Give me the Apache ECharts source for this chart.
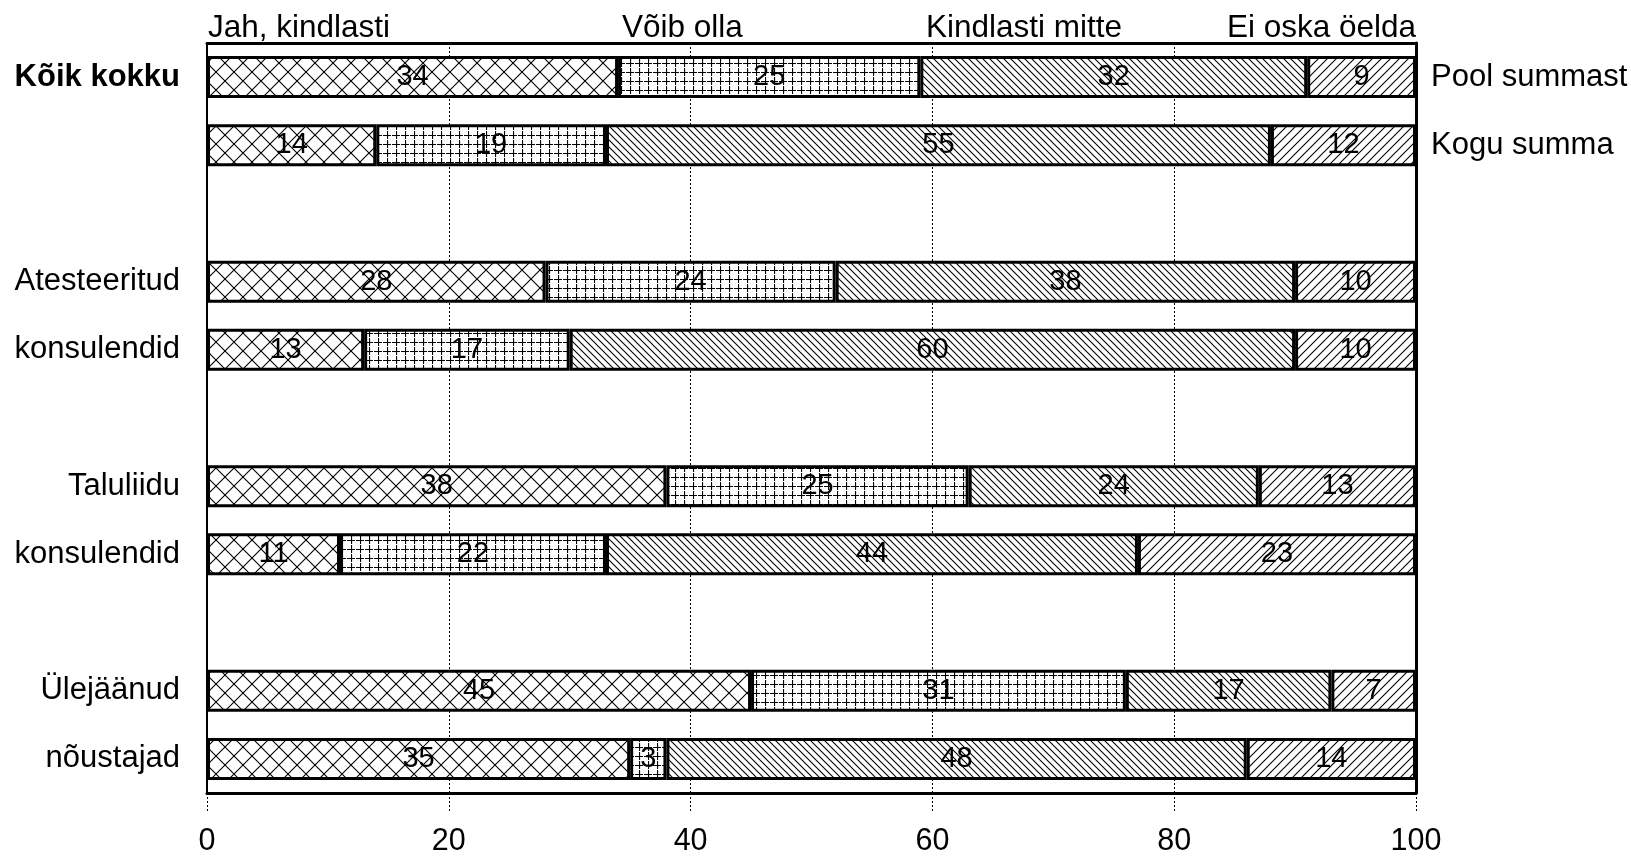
<!DOCTYPE html>
<html>
<head>
<meta charset="utf-8">
<script src="https://cdn.jsdelivr.net/npm/echarts@6/dist/echarts.min.js"></script>
<style>
  html, body { margin: 0; padding: 0; background: #fff; }
  #chart { width: 1631px; height: 857px; }
</style>
</head>
<body>
<div id="chart"></div>
<script>
// ---- data ----
const categories = ['Kõik kokku', '', ' ', 'Atesteeritud', 'konsulendid', '  ', 'Taluliidu', 'konsulendid', '   ', 'Ülejäänud', 'nõustajad'];
const rightLabels = ['Pool summast', 'Kogu summa', '', '', '', '', '', '', '', '', ''];
const seriesNames = ['Jah, kindlasti', 'Võib olla', 'Kindlasti mitte', 'Ei oska öelda'];
const jahKindlasti = [34, 14, '-', 28, 13, '-', 38, 11, '-', 45, 35];
const voibOlla = [25, 19, '-', 24, 17, '-', 25, 22, '-', 31, 3];
const kindlastiMitte = [32, 55, '-', 38, 60, '-', 24, 44, '-', 17, 48];
const eiOskaOelda = [9, 12, '-', 10, 10, '-', 13, 23, '-', 7, 14];
const xTicks = [0, 20, 40, 60, 80, 100];

// ---- patterns ----
function tile(size, draw) {
  const c = document.createElement('canvas');
  c.width = size; c.height = size;
  const g = c.getContext('2d');
  g.fillStyle = '#fff';
  g.fillRect(0, 0, size, size);
  g.strokeStyle = '#000';
  g.lineWidth = 1.1;
  draw(g, size);
  return c;
}
function diagForward(g, s) { // "/"
  g.beginPath();
  g.moveTo(-1, s + 1); g.lineTo(s + 1, -1);
  g.moveTo(-1, 1); g.lineTo(1, -1);
  g.moveTo(s - 1, s + 1); g.lineTo(s + 1, s - 1);
  g.stroke();
}
function diagBack(g, s) { // "\"
  g.beginPath();
  g.moveTo(-1, -1); g.lineTo(s + 1, s + 1);
  g.moveTo(s - 1, -1); g.lineTo(s + 1, 1);
  g.moveTo(-1, s - 1); g.lineTo(1, s + 1);
  g.stroke();
}
const patCross = tile(18, (g, s) => { diagForward(g, s); diagBack(g, s); });
const patGrid = tile(9, (g, s) => {
  g.strokeStyle = '#000';
  g.lineWidth = 1.2;
  g.setLineDash([4, 1]);
  g.beginPath();
  g.moveTo(0.5, 0); g.lineTo(0.5, s);
  g.moveTo(0, 0.5); g.lineTo(s, 0.5);
  g.stroke();
});
const patBack = tile(7, (g, s) => diagBack(g, s));
const patFwd = tile(9, (g, s) => diagForward(g, s));
const patterns = [patCross, patGrid, patBack, patFwd];
const values = [jahKindlasti, voibOlla, kindlastiMitte, eiOskaOelda];

const FONT = 'Liberation Sans, Arial, sans-serif';

const chart = echarts.init(document.getElementById('chart'), null, { renderer: 'canvas' });

const series = seriesNames.map((name, i) => ({
  name: name,
  type: 'bar',
  stack: 'total',
  barWidth: 42,
  xAxisIndex: 0,
  yAxisIndex: 0,
  data: values[i],
  itemStyle: {
    color: { image: patterns[i], repeat: 'repeat' },
    borderColor: '#000',
    borderWidth: 3
  },
  label: {
    show: true,
    position: 'inside',
    color: '#000',
    fontFamily: FONT,
    fontSize: 29,
    formatter: '{c}'
  },
  emphasis: { disabled: true },
  animation: false
}));

const topLabelX = [208, 622, 926, 1416];
const topLabelAlign = ['left', 'left', 'left', 'right'];

chart.setOption({
  animation: false,
  backgroundColor: '#fff',
  grid: { left: 207, right: 215, top: 43, bottom: 64, containLabel: false },
  xAxis: [
    {
      type: 'value', min: 0, max: 100, interval: 20, position: 'bottom',
      axisLine: { show: true, onZero: false, lineStyle: { color: '#000', width: 3 } },
      axisTick: { show: true, length: 18, lineStyle: { color: '#000', width: 1, type: [2, 2] } },
      axisLabel: { show: true, color: '#000', fontFamily: FONT, fontSize: 30.5, margin: 33,
        formatter: v => xTicks.includes(v) ? String(v) : '' },
      splitLine: { show: true, lineStyle: { color: '#000', width: 1, type: [2, 2] } }
    },
    {
      type: 'value', min: 0, max: 100, interval: 20, position: 'top',
      axisLine: { show: true, onZero: false, lineStyle: { color: '#000', width: 3 } },
      axisTick: { show: false }, axisLabel: { show: false }, splitLine: { show: false }
    }
  ],
  yAxis: [
    {
      type: 'category', data: categories, inverse: true, position: 'left',
      axisLine: { show: true, onZero: false, lineStyle: { color: '#000', width: 2 } },
      axisTick: { show: false },
      axisLabel: {
        color: '#000', fontFamily: FONT, fontSize: 31, margin: 27, interval: 0,
        formatter: (v, i) => i === 0 ? '{b|' + v + '}' : v.trim(),
        rich: { b: { fontWeight: 'bold', fontFamily: FONT, fontSize: 31, color: '#000' } }
      },
      splitLine: { show: false }
    },
    {
      type: 'category', data: rightLabels, inverse: true, position: 'right',
      axisLine: { show: true, onZero: false, lineStyle: { color: '#000', width: 3 } },
      axisTick: { show: false },
      axisLabel: { color: '#000', fontFamily: FONT, fontSize: 31, margin: 15, interval: 0 },
      splitLine: { show: false }
    }
  ],
  graphic: seriesNames.map((name, i) => ({
    type: 'text',
    left: topLabelAlign[i] === 'left' ? topLabelX[i] : undefined,
    right: topLabelAlign[i] === 'right' ? 1631 - topLabelX[i] : undefined,
    top: 12,
    style: { text: name, fill: '#000', font: '31.5px ' + FONT }
  })),
  series: series
});
</script>
</body>
</html>
